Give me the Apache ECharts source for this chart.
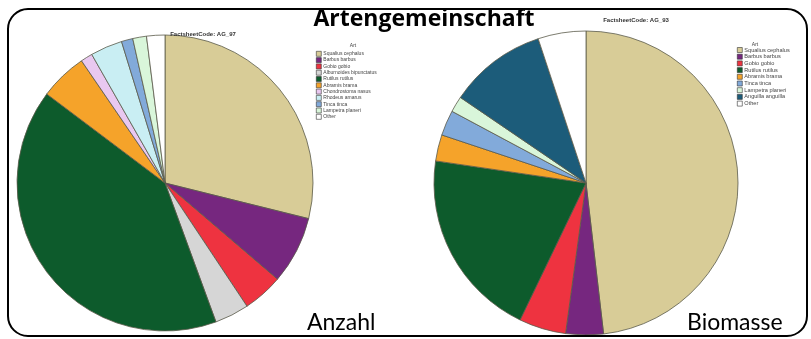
<!DOCTYPE html>
<html>
<head>
<meta charset="utf-8">
<script src="https://cdn.jsdelivr.net/npm/echarts@6/dist/echarts.min.js"></script>
<style>
  html, body { margin: 0; padding: 0; background: #fff; }
  #chart { width: 811px; height: 339px; }
</style>
</head>
<body>
<div id="chart"></div>
<script>
// Species shares (%) by count (Anzahl) and by biomass (Biomasse)
const anzahlNames = [
  'Squalius cephalus', 'Barbus barbus', 'Gobio gobio', 'Alburnoides bipunctatus',
  'Rutilus rutilus', 'Abramis brama', 'Chondrostoma nasus', 'Rhodeus amarus',
  'Tinca tinca', 'Lampetra planeri', 'Other'
];
const anzahlValues = [28.9, 7.4, 4.4, 3.75, 40.9, 5.2, 1.3, 3.5, 1.25, 1.5, 2.0];

const biomasseNames = [
  'Squalius cephalus', 'Barbus barbus', 'Gobio gobio', 'Rutilus rutilus',
  'Abramis brama', 'Tinca tinca', 'Lampetra planeri', 'Anguilla anguilla', 'Other'
];
const biomasseValues = [48.2, 4.0, 5.0, 20.2, 2.8, 2.7, 1.7, 10.4, 5.1];

const speciesColors = {
  'Squalius cephalus': '#D8CC97',
  'Barbus barbus': '#76277F',
  'Gobio gobio': '#EE3340',
  'Alburnoides bipunctatus': '#D6D6D6',
  'Rutilus rutilus': '#0D5B2C',
  'Abramis brama': '#F5A32A',
  'Chondrostoma nasus': '#E9C8F0',
  'Rhodeus amarus': '#C9EEF3',
  'Tinca tinca': '#82AADA',
  'Lampetra planeri': '#D9F6DA',
  'Anguilla anguilla': '#1C5C7A',
  'Other': '#FFFFFF'
};

function pieData(names, values) {
  return names.map((n, i) => ({
    name: n,
    value: values[i],
    itemStyle: { color: speciesColors[n] }
  }));
}

const chart = echarts.init(document.getElementById('chart'), null, { renderer: 'canvas' });

const pieBase = {
  type: 'pie',
  startAngle: 90,
  clockwise: true,
  label: { show: false },
  labelLine: { show: false },
  emphasis: { disabled: true },
  silent: true,
  itemStyle: { borderColor: '#5a5a4a', borderWidth: 0.8 }
};

const legendBase = {
  orient: 'vertical',
  icon: 'rect',
  itemWidth: 5,
  itemHeight: 5,
  itemGap: 0.7,
  selectedMode: false,
  padding: 0,
  itemStyle: { borderColor: '#333', borderWidth: 0.6 },
  textStyle: { fontSize: 5, color: '#444', fontFamily: 'Liberation Sans', padding: [0, 0, 0, -3], lineHeight: 5 }
};

chart.setOption({
  animation: false,
  backgroundColor: '#fff',
  title: [
    {
      text: 'Artengemeinschaft', left: 419, top: 3, textAlign: 'center',
      textStyle: { fontFamily: 'Open Sans', fontWeight: 'bold', fontSize: 23, color: '#000' }
    },
    {
      text: 'FactsheetCode: AG_97', left: 198, top: 26, textAlign: 'center',
      textStyle: { fontFamily: 'Liberation Sans', fontWeight: 'bold', fontSize: 6, color: '#333' }
    },
    {
      text: 'FactsheetCode: AG_93', left: 631, top: 12, textAlign: 'center',
      textStyle: { fontFamily: 'Liberation Sans', fontWeight: 'bold', fontSize: 6, color: '#333' }
    },
    {
      text: 'Art', left: 348, top: 38, textAlign: 'center',
      textStyle: { fontFamily: 'Liberation Sans', fontWeight: 'normal', fontSize: 5, color: '#444' }
    },
    {
      text: 'Art', left: 750, top: 37, textAlign: 'center',
      textStyle: { fontFamily: 'Liberation Sans', fontWeight: 'normal', fontSize: 5, color: '#444' }
    },
    {
      text: 'Anzahl', left: 302, top: 306,
      textStyle: { fontFamily: 'Lato', fontWeight: 'normal', fontSize: 23, color: '#000' }
    },
    {
      text: 'Biomasse', left: 682, top: 306,
      textStyle: { fontFamily: 'Lato', fontWeight: 'normal', fontSize: 23, color: '#000' }
    }
  ],
  legend: [
    Object.assign({}, legendBase, { data: anzahlNames, left: 316, top: 51 }),
    Object.assign({}, legendBase, {
      data: biomasseNames, left: 737, top: 47,
      textStyle: Object.assign({}, legendBase.textStyle, { fontSize: 5.6 })
    })
  ],
  series: [
    Object.assign({}, pieBase, {
      name: 'Anzahl',
      center: [165, 183],
      radius: 148,
      data: pieData(anzahlNames, anzahlValues)
    }),
    Object.assign({}, pieBase, {
      name: 'Biomasse',
      center: [586, 183],
      radius: 152,
      data: pieData(biomasseNames, biomasseValues)
    })
  ],
  graphic: [
    {
      type: 'rect',
      silent: true,
      z: 100,
      shape: { x: 8, y: 9, width: 799, height: 327, r: 20 },
      style: { fill: 'none', stroke: '#000', lineWidth: 2 }
    }
  ]
});
</script>
</body>
</html>
